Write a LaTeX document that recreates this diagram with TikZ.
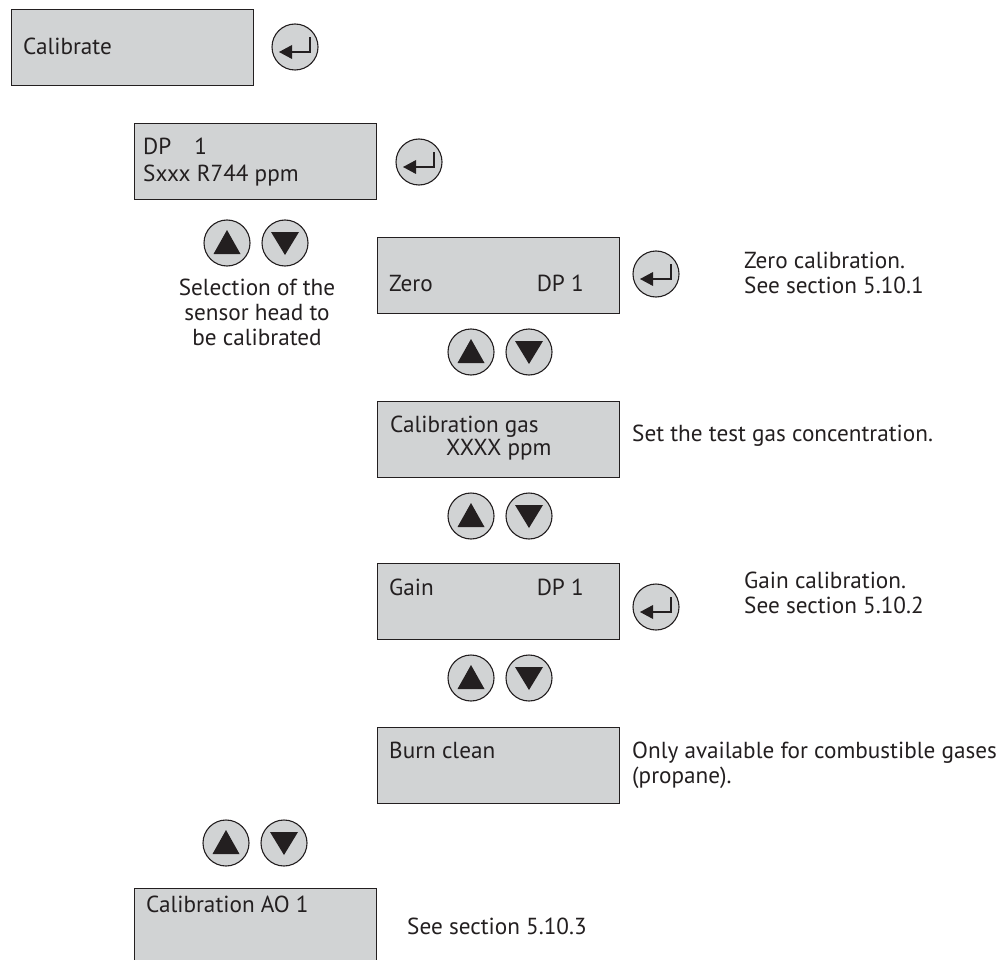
\documentclass[tikz,border=0pt]{standalone}
\usepackage{fontspec}
\setmainfont{PT Sans}
\definecolor{ink}{HTML}{231F20}
\definecolor{lcd}{HTML}{D1D3D4}
\tikzset{
  panel/.style={draw=ink, fill=lcd, line width=1.1pt, minimum width=242pt, minimum height=76pt, anchor=north west, inner sep=0pt},
  keycirc/.style={circle, draw=ink, fill=lcd, line width=1.1pt, minimum size=46pt, inner sep=0pt},
  lbl/.style={inner sep=0pt, text=ink, font=\fontsize{23.2}{27}\selectfont},
  txt/.style={lbl, anchor=base west},
  txtc/.style={lbl, anchor=base},
  txte/.style={lbl, anchor=base east},
  enterkey/.pic={
    \node[keycirc] (-c) at (0,0) {};
    \fill[ink] (-16,5) -- (-3,-2) -- (-3,12) -- cycle;
    \draw[ink, line width=1.2pt] (-4,5) -- (15,5) -- (15,-10);
  },
  upkey/.pic={
    \node[keycirc] (-c) at (0,0) {};
    \fill[ink] (0,-13) -- (13.5,11) -- (-13.5,11) -- cycle;
  },
  downkey/.pic={
    \node[keycirc] (-c) at (0,0) {};
    \fill[ink] (0,12) -- (14,-11) -- (-14,-11) -- cycle;
  }
}
\begin{document}
\begin{tikzpicture}[x=1pt,y=-1pt]
\useasboundingbox (0,0) rectangle (1001,960);
\fill[white] (0,0) rectangle (1001,960);
\clip (0,0) rectangle (1001,960);

% Calibrate
\node[panel] (calib) at (11,9) {};
\node[txt] (calibt) at (23,55) {Calibrate};
\pic (ent1) at (295,47) {enterkey};

% DP 1
\node[panel] (dp) at (134,123) {};
\node[txt] (dpt1) at (143,155) {DP\hspace{23pt}1};
\node[txt] (dpt2) at (143,182) {Sxxx R744 ppm};
\pic (ent2) at (419,162) {enterkey};
\pic (up1) at (227,243) {upkey};
\pic (dn1) at (285,243) {downkey};
\node[txtc] (sel1) at (257,295) {Selection of the};
\node[txtc] (sel2) at (257,320) {sensor head to};
\node[txtc] (sel3) at (257,345) {be calibrated};

% Zero
\node[panel] (zero) at (377,237) {};
\node[txt] (zerot) at (389,291) {Zero};
\node[txte] (zerodp) at (584,291) {DP 1};
\pic (ent3) at (656,274) {enterkey};
\node[txt] (zn1) at (744,268) {Zero calibration.};
\node[txt] (zn2) at (744,293) {See section 5.10.1};
\pic (up2) at (471,352) {upkey};
\pic (dn2) at (529,352) {downkey};

% Calibration gas
\node[panel] (cgas) at (377,401) {};
\node[txt] (cgas1) at (390,432) {Calibration gas};
\node[txt] (cgas2) at (446,455) {XXXX ppm};
\node[txt] (cgasn) at (632,441) {Set the test gas concentration.};
\pic (up3) at (471,516) {upkey};
\pic (dn3) at (529,516) {downkey};

% Gain
\node[panel] (gain) at (377,563) {};
\node[txt] (gaint) at (389,595) {Gain};
\node[txte] (gaindp) at (584,595) {DP 1};
\pic (ent4) at (656,607) {enterkey};
\node[txt] (gn1) at (744,588) {Gain calibration.};
\node[txt] (gn2) at (744,613) {See section 5.10.2};
\pic (up4) at (471,678) {upkey};
\pic (dn4) at (529,678) {downkey};

% Burn clean
\node[panel] (burn) at (377,727) {};
\node[txt] (burnt) at (389,758) {Burn clean};
\node[txt] (bn1) at (632,758) {Only available for combustible gases};
\node[txt] (bn2) at (632,783) {(propane).};

% Calibration AO
\pic (up5) at (226,843) {upkey};
\pic (dn5) at (284,843) {downkey};
\node[panel] (ao) at (134,888) {};
\node[txt] (aot) at (146,912) {Calibration AO 1};
\node[txt] (aon) at (407,934) {See section 5.10.3};
\end{tikzpicture}
\end{document}
